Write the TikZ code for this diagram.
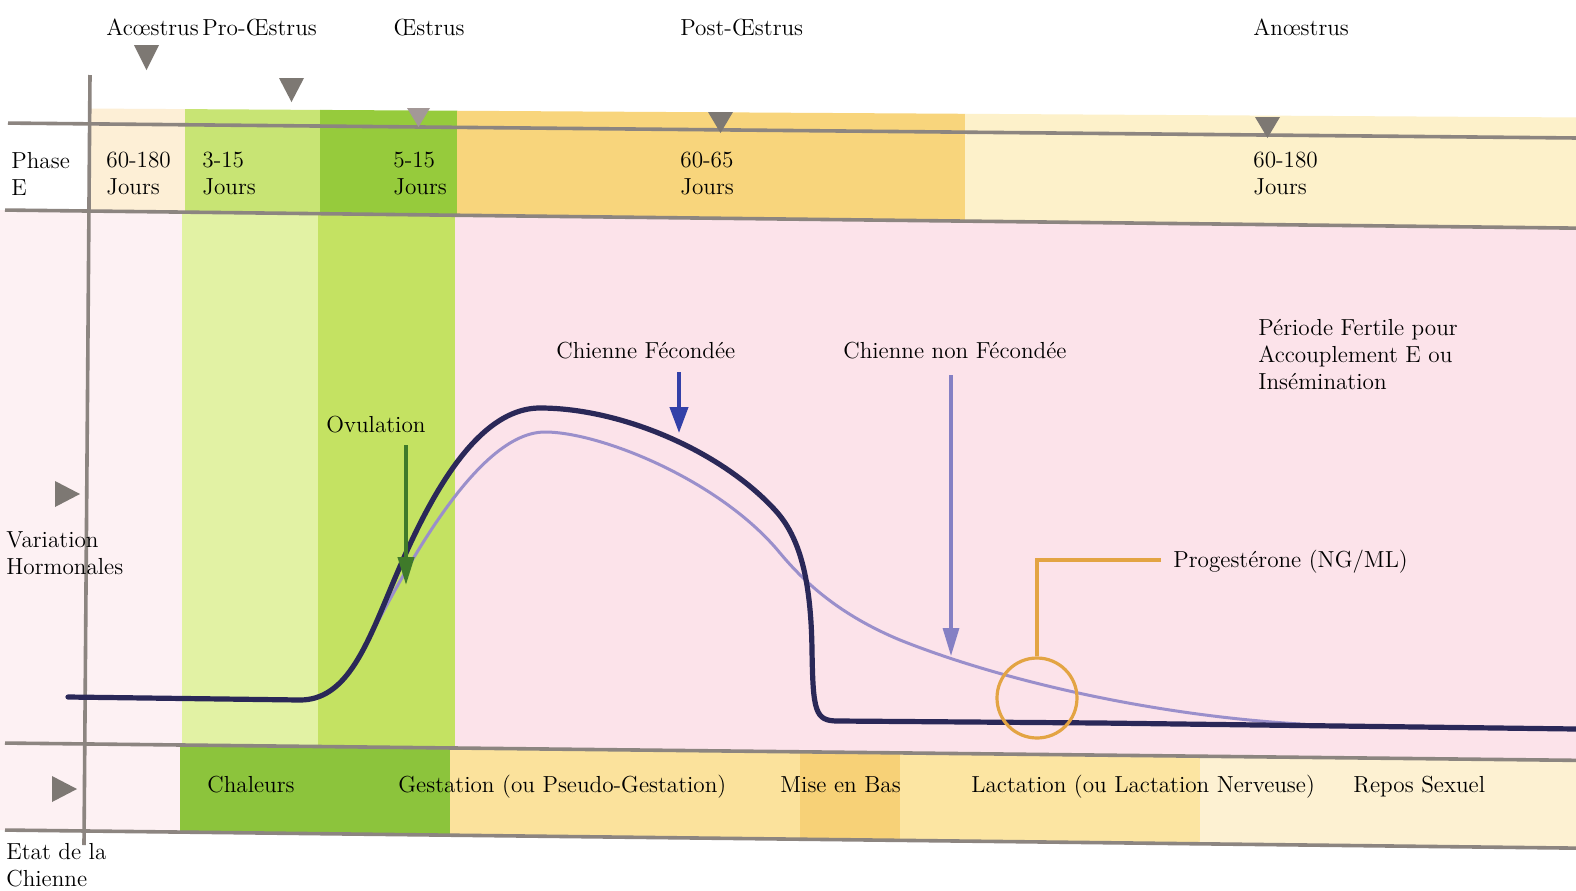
\documentclass[tikz,border=0pt]{standalone}
\usetikzlibrary{arrows.meta}
\definecolor{rulec}{HTML}{8C8580}
\definecolor{tri}{HTML}{7D7873}
\definecolor{peach}{HTML}{FDEFD6}
\definecolor{lgreen}{HTML}{C8E474}
\definecolor{dgreen}{HTML}{96CB3C}
\definecolor{orng}{HTML}{F8D57C}
\definecolor{cream}{HTML}{FDF1CA}
\definecolor{pinkbg}{HTML}{FCE3EA}
\definecolor{palepink}{HTML}{FDF1F3}
\definecolor{mgreenA}{HTML}{E2F2A4}
\definecolor{mgreenB}{HTML}{C4E262}
\definecolor{bgreen}{HTML}{8CC43C}
\definecolor{byel}{HTML}{FBE29C}
\definecolor{bdark}{HTML}{F7D177}
\definecolor{byelb}{HTML}{FCE5A2}
\definecolor{bcream}{HTML}{FDF1D2}
\definecolor{navy}{HTML}{2A2858}
\definecolor{lilac}{HTML}{9A8FCB}
\definecolor{ovgreen}{HTML}{3F7A2A}
\definecolor{fecblue}{HTML}{3340A8}
\definecolor{nonfec}{HTML}{8580C4}
\definecolor{progor}{HTML}{E3A443}
\newcommand\colfill[5]{%
  \fill[#1] ({#2},{#4(#2)}) -- ({#3},{#4(#3)}) -- ({#3},{#5(#3)}) -- ({#2},{#5(#2)}) -- cycle;}
\tikzset{
  lbl/.style={font=\fontsize{11.6}{13.5}\selectfont, inner sep=0pt, anchor=base west},
  mlbl/.style={font=\fontsize{11.6}{13.5}\selectfont, inner sep=0pt, anchor=north west, align=left},
  rulel/.style={draw=rulec, line width=1.8pt},
  trimark/.style={fill=tri},
}
\begin{document}
\begin{tikzpicture}[x=0.5pt,y=-0.5pt,
  declare function={ftop(\x)=108+0.006*\x; fla(\x)=123+0.0095*\x; flb(\x)=210+0.0115*\x;
                    flc(\x)=743+0.011*\x; fld(\x)=830+0.0115*\x;}]
\useasboundingbox (0,0) rectangle (1576,890);
\fill[white] (0,0) rectangle (1576,890);
% top band
\colfill{peach}{88}{185}{ftop}{flb}
\colfill{lgreen}{185}{320}{ftop}{flb}
\colfill{dgreen}{320}{457}{ftop}{flb}
\colfill{orng}{457}{965}{ftop}{flb}
\colfill{cream}{965}{1576}{ftop}{flb}
% middle
\colfill{palepink}{0}{182}{flb}{flc}
\colfill{mgreenA}{182}{318}{flb}{flc}
\colfill{mgreenB}{318}{455}{flb}{flc}
\colfill{pinkbg}{455}{1576}{flb}{flc}
% bottom band
\colfill{palepink}{0}{180}{flc}{fld}
\colfill{bgreen}{180}{450}{flc}{fld}
\colfill{byel}{450}{800}{flc}{fld}
\colfill{bdark}{800}{900}{flc}{fld}
\colfill{byelb}{900}{1200}{flc}{fld}
\colfill{bcream}{1200}{1576}{flc}{fld}
% rules
\draw[rulel] (8,{fla(8)}) -- (1576,{fla(1576)});
\draw[rulel] (5,{flb(5)}) -- (1576,{flb(1576)});
\draw[rulel] (5,{flc(5)}) -- (1576,{flc(1576)});
\draw[rulel] (5,{fld(5)}) -- (1576,{fld(1576)});
\draw[rulel] (90,75) -- (84,845);
% triangles
\fill[trimark] (134,45) -- (159,45) -- (146.5,70) -- cycle;
\fill[trimark] (279,78) -- (304,78) -- (291.5,102) -- cycle;
\fill[fill=tri!70!pinkbg] (407,108) -- (430,108) -- (418.5,127) -- cycle;
\fill[trimark] (708,112) -- (733,112) -- (720.5,133) -- cycle;
\fill[trimark] (1255,117) -- (1280,117) -- (1267.5,138) -- cycle;
\fill[trimark] (55,481) -- (55,507) -- (80,494) -- cycle;
\fill[trimark] (52,776) -- (52,802) -- (77,789) -- cycle;
% curves
\draw[lilac, line width=1.5pt, line cap=round] (355,665)
  .. controls (390,600) and (470,432) .. (545,432)
  .. controls (600,432) and (720,480) .. (780,553)
  .. controls (805,583) and (840,615) .. (900,640)
  .. controls (1000,680) and (1150,715) .. (1300,724);
\draw[navy, line width=2.6pt, line cap=round] (68,697) -- (300,700)
  .. controls (345,700) and (365,650) .. (390,590)
  .. controls (420,518) and (470,408) .. (540,408)
  .. controls (620,408) and (720,450) .. (775,510)
  .. controls (800,537) and (811,580) .. (812,650)
  .. controls (813,712) and (815,721) .. (838,721) -- (1100,723) -- (1576,729);
% labels top
\node[lbl] (acoe) at (106,35) {Acœstrus};
\node[lbl] (proe) at (202,35) {Pro-Œstrus};
\node[lbl] (oest) at (393,35) {Œstrus};
\node[lbl] (post) at (680,35) {Post-Œstrus};
\node[lbl] (anoe) at (1253,35) {Anœstrus};
\node[mlbl] (phase) at (11,152) {Phase\\E};
\node[mlbl] (d1) at (106,152) {60-180\\Jours};
\node[mlbl] (d2) at (202,152) {3-15\\Jours};
\node[mlbl] (d3) at (393,152) {5-15\\Jours};
\node[mlbl] (d4) at (680,152) {60-65\\Jours};
\node[mlbl] (d5) at (1253,152) {60-180\\Jours};
% middle labels
\node[mlbl] (fert) at (1258,319) {Période Fertile pour\\Accouplement E ou\\Insémination};
\node[lbl] (fec) at (556,358) {Chienne Fécondée};
\node[lbl] (nfec) at (843,358) {Chienne non Fécondée};
\node[lbl] (ovu) at (326,432) {Ovulation};
\node[lbl] (prog) at (1173,567) {Progestérone (NG/ML)};
\node[mlbl] (var) at (6,531) {Variation\\Hormonales};
% bottom labels
\node[lbl] (chal) at (207,792) {Chaleurs};
\node[lbl] (gest) at (398,792) {Gestation (ou Pseudo-Gestation)};
\node[lbl] (mise) at (780,792) {Mise en Bas};
\node[lbl] (lact) at (971,792) {Lactation (ou Lactation Nerveuse)};
\node[lbl] (repos) at (1353,792) {Repos Sexuel};
\node[mlbl] (etat) at (6,843) {Etat de la\\Chienne};
% arrows
\coordinate (ovS) at (406,445);
\coordinate (ovE) at (406,585);
\draw[ovgreen, line width=2pt, -{Triangle[length=14pt,width=8pt]}] (ovS) -- (ovE);
\coordinate (fecS) at (679,372);
\coordinate (fecE) at (679,433);
\draw[fecblue, line width=2pt, -{Triangle[length=13pt,width=9pt]}] (fecS) -- (fecE);
\coordinate (nfS) at (951,375);
\coordinate (nfE) at (951,656);
\draw[nonfec, line width=1.6pt, -{Triangle[length=14pt,width=8pt]}] (nfS) -- (nfE);
% progesterone marker
\node[draw=progor, line width=1.6pt, circle, minimum size=40pt, inner sep=0pt] (pcirc) at (1037,698) {};
\coordinate (pcorner) at (1037,560);
\draw[progor, line width=2pt] (prog.west |- pcorner) ++(-12,0) -- (pcorner) -- (pcirc.north);
\end{tikzpicture}
\end{document}
